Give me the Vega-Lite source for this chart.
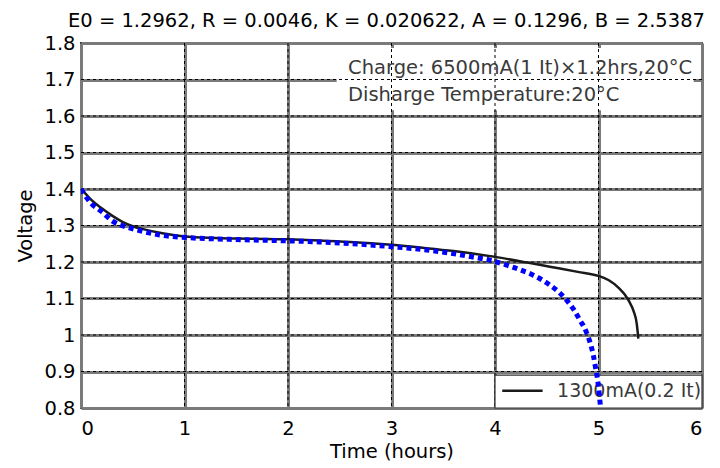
{
  "$schema": "https://vega.github.io/schema/vega-lite/v6.json",
  "width": 621,
  "height": 365,
  "autosize": {"type": "none"},
  "padding": {"left": 81, "top": 43, "right": 18, "bottom": 60},
  "background": "white",
  "config": {
    "font": "DejaVu Sans",
    "view": {"stroke": "#1a1a1a", "strokeWidth": 1.8},
    "axis": {
      "labelFont": "DejaVu Sans",
      "titleFont": "DejaVu Sans",
      "labelFontSize": 19.5,
      "titleFontSize": 19.5,
      "labelColor": "#000000",
      "titleColor": "#000000",
      "titleFontWeight": "normal",
      "labelOverlap": false,
      "ticks": false,
      "domain": false,
      "grid": true,
      "gridColor": "#7a7a7a",
      "gridWidth": 3
    }
  },
  "title": {
    "text": "E0 = 1.2962, R = 0.0046, K = 0.020622, A = 0.1296, B = 2.5387",
    "font": "DejaVu Sans",
    "fontSize": 19.5,
    "fontWeight": "normal",
    "color": "#000000",
    "anchor": "middle",
    "baseline": "alphabetic",
    "offset": -13,
    "dx": -5
  },
  "datasets": {
    "measured": [
      {"t": 0, "v": 1.40}, {"t": 0.05, "v": 1.385}, {"t": 0.1, "v": 1.37}, {"t": 0.2, "v": 1.347},
      {"t": 0.3, "v": 1.327}, {"t": 0.4, "v": 1.31}, {"t": 0.5, "v": 1.298}, {"t": 0.6, "v": 1.29},
      {"t": 0.8, "v": 1.278}, {"t": 1.0, "v": 1.27}, {"t": 1.3, "v": 1.266}, {"t": 1.6, "v": 1.264},
      {"t": 2.0, "v": 1.262}, {"t": 2.3, "v": 1.259}, {"t": 2.6, "v": 1.255}, {"t": 3.0, "v": 1.247},
      {"t": 3.3, "v": 1.239}, {"t": 3.6, "v": 1.23}, {"t": 4.0, "v": 1.214}, {"t": 4.3, "v": 1.199},
      {"t": 4.53, "v": 1.187}, {"t": 4.8, "v": 1.173}, {"t": 5.0, "v": 1.162}, {"t": 5.1, "v": 1.15},
      {"t": 5.2, "v": 1.128}, {"t": 5.25, "v": 1.112}, {"t": 5.3, "v": 1.09}, {"t": 5.34, "v": 1.065},
      {"t": 5.37, "v": 1.03}, {"t": 5.385, "v": 0.99}
    ],
    "model": [
      {"t": 0, "v": 1.40}, {"t": 0.1, "v": 1.36}, {"t": 0.2, "v": 1.338}, {"t": 0.3, "v": 1.313},
      {"t": 0.45, "v": 1.295}, {"t": 0.54, "v": 1.288}, {"t": 0.76, "v": 1.274}, {"t": 1.02, "v": 1.267},
      {"t": 1.44, "v": 1.262}, {"t": 1.99, "v": 1.258}, {"t": 2.3, "v": 1.255}, {"t": 2.62, "v": 1.25},
      {"t": 3.0, "v": 1.242}, {"t": 3.3, "v": 1.234}, {"t": 3.57, "v": 1.224}, {"t": 3.8, "v": 1.213},
      {"t": 3.95, "v": 1.205}, {"t": 4.14, "v": 1.189}, {"t": 4.25, "v": 1.178}, {"t": 4.37, "v": 1.164},
      {"t": 4.53, "v": 1.137}, {"t": 4.62, "v": 1.117}, {"t": 4.69, "v": 1.096}, {"t": 4.76, "v": 1.07},
      {"t": 4.82, "v": 1.041}, {"t": 4.88, "v": 1.01}, {"t": 4.92, "v": 0.978}, {"t": 4.95, "v": 0.945},
      {"t": 4.97, "v": 0.913}, {"t": 4.99, "v": 0.88}, {"t": 5.0, "v": 0.858}, {"t": 5.01, "v": 0.83},
      {"t": 5.02, "v": 0.80}
    ],
    "gridx": [{"g": 1}, {"g": 2}, {"g": 3}, {"g": 4}, {"g": 5}],
    "gridy": [{"g": 0.9}, {"g": 1.0}, {"g": 1.1}, {"g": 1.2}, {"g": 1.3}, {"g": 1.4}, {"g": 1.5}, {"g": 1.6}, {"g": 1.7}],
    "notebox": [{"x1": 2.47, "x2": 5.92, "y1": 1.616, "y2": 1.786}],
    "legendbox": [{"x1": 4.0, "x2": 6.0, "y1": 0.8, "y2": 0.89}],
    "notes": [
      {"x": 2.58, "y": 1.731, "label": "Charge: 6500mA(1 It)×1.2hrs,20°C"},
      {"x": 2.58, "y": 1.658, "label": "Disharge Temperature:20°C"}
    ],
    "legendline": [{"x1": 4.07, "x2": 4.46, "y": 0.847}],
    "legendtext": [{"x": 4.6, "y": 0.847, "label": "1300mA(0.2 It)"}]
  },
  "layer": [
    {
      "data": {"name": "notebox"},
      "mark": {"type": "rect", "fill": "white", "stroke": null},
      "encoding": {
        "x": {"field": "x1", "type": "quantitative", "scale": {"domain": [0, 6], "nice": false, "zero": false},
              "axis": {"title": "Time (hours)", "values": [0, 1, 2, 3, 4, 5, 6], "tickCount": 7, "format": "d", "labelPadding": 11, "titlePadding": 5}},
        "x2": {"field": "x2"},
        "y": {"field": "y1", "type": "quantitative", "scale": {"domain": [0.8, 1.8], "nice": false, "zero": false},
              "axis": {"title": "Voltage", "values": [0.8, 0.9, 1.0, 1.1, 1.2, 1.3, 1.4, 1.5, 1.6, 1.7, 1.8], "tickCount": 11, "labelExpr": "datum.value == 1 ? '1' : format(datum.value, '.1f')", "labelPadding": 6, "titlePadding": 8}},
        "y2": {"field": "y2"}
      }
    },
    {
      "data": {"name": "gridx"},
      "mark": {"type": "rule", "color": "#000000", "strokeWidth": 1, "strokeDash": [3, 3]},
      "encoding": {"x": {"field": "g", "type": "quantitative"}}
    },
    {
      "data": {"name": "gridy"},
      "mark": {"type": "rule", "color": "#000000", "strokeWidth": 1, "strokeDash": [3, 3]},
      "encoding": {"y": {"field": "g", "type": "quantitative"}}
    },
    {
      "data": {"name": "notes"},
      "mark": {"type": "text", "align": "left", "baseline": "middle", "fontSize": 19.5, "font": "DejaVu Sans", "color": "#3a3a3a"},
      "encoding": {
        "x": {"field": "x", "type": "quantitative"},
        "y": {"field": "y", "type": "quantitative"},
        "text": {"field": "label"}
      }
    },
    {
      "data": {"name": "legendbox"},
      "mark": {"type": "rect", "fill": "white", "stroke": "#333333", "strokeWidth": 1.2},
      "encoding": {
        "x": {"field": "x1", "type": "quantitative"},
        "x2": {"field": "x2"},
        "y": {"field": "y1", "type": "quantitative"},
        "y2": {"field": "y2"}
      }
    },
    {
      "data": {"name": "legendline"},
      "mark": {"type": "rule", "color": "#1a1a1a", "strokeWidth": 2.5},
      "encoding": {
        "x": {"field": "x1", "type": "quantitative"},
        "x2": {"field": "x2"},
        "y": {"field": "y", "type": "quantitative"}
      }
    },
    {
      "data": {"name": "legendtext"},
      "mark": {"type": "text", "align": "left", "baseline": "middle", "fontSize": 19, "font": "DejaVu Sans", "color": "#3a3a3a"},
      "encoding": {
        "x": {"field": "x", "type": "quantitative"},
        "y": {"field": "y", "type": "quantitative"},
        "text": {"field": "label"}
      }
    },
    {
      "data": {"name": "measured"},
      "mark": {"type": "line", "color": "#1a1a1a", "strokeWidth": 2.5, "interpolate": "monotone"},
      "encoding": {
        "x": {"field": "t", "type": "quantitative"},
        "y": {"field": "v", "type": "quantitative"}
      }
    },
    {
      "data": {"name": "model"},
      "mark": {"type": "line", "color": "#0000ff", "strokeWidth": 5, "strokeDash": [5, 4], "interpolate": "monotone", "clip": true},
      "encoding": {
        "x": {"field": "t", "type": "quantitative"},
        "y": {"field": "v", "type": "quantitative"}
      }
    }
  ]
}
